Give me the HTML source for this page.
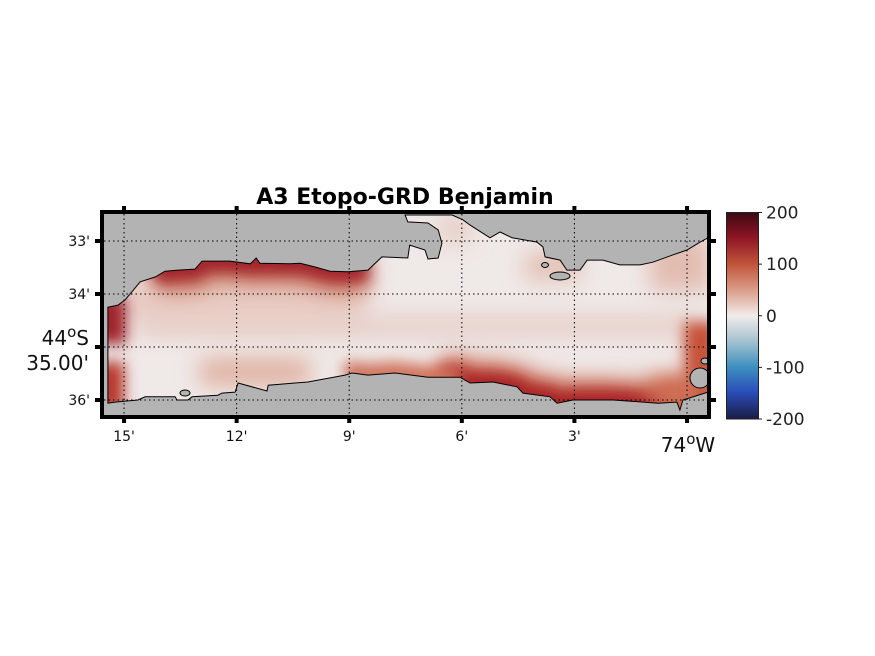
<!DOCTYPE html>
<html><head><meta charset="utf-8"><style>
body{margin:0;background:#fff;width:875px;height:656px;overflow:hidden}
svg{display:block;font-family:"DejaVu Sans","Liberation Sans",sans-serif}
</style></head><body>
<svg id="chart" width="875" height="656" viewBox="0 0 875 656">
<defs>
<linearGradient id="cbgrad" x1="0" y1="0" x2="0" y2="1">
<stop offset="0" stop-color="#3c0912"/><stop offset="0.12" stop-color="#8e1424"/>
<stop offset="0.25" stop-color="#c0543a"/><stop offset="0.38" stop-color="#dba08c"/>
<stop offset="0.5" stop-color="#f1ecec"/><stop offset="0.62" stop-color="#a6c3cf"/>
<stop offset="0.75" stop-color="#3d8fc0"/><stop offset="0.87" stop-color="#2a4db8"/>
<stop offset="1" stop-color="#1a1c45"/></linearGradient>
<filter id="blur" filterUnits="userSpaceOnUse" x="0" y="150" width="875" height="330"><feGaussianBlur stdDeviation="7"/></filter>
<filter id="blur2" filterUnits="userSpaceOnUse" x="0" y="150" width="875" height="330"><feGaussianBlur stdDeviation="11"/></filter>
<clipPath id="waterclip"><polygon id="wclip"/></clipPath>
</defs>
<rect x="103" y="300" width="6" height="105" fill="#ffffff"/>
<g id="plot"></g>
</svg>
<script>
// axis data
const lonTicks=[15,12,9,6,3,0];
const lonLabels=["15'","12'","9'","6'","3'",""];
const latTicks=[33,34,35,36];
const latLabels=["33'","34'","","36'"];
const cbTicks=[200,100,0,-100,-200];
const cbLabels=["200","100","0","-100","-200"];
// coastlines: lon minutes west of 74°W, lat minutes south of 44°S
const topCoastX=[15.43,15.16,14.97,14.71,14.57,14.17,13.91,13.56,13.11,12.92,12.18,11.64,11.59,11.48,11.38,10.58,10.31,9.91,9.51,9.03,8.50,8.13,7.44,7.39,6.98,6.90,6.63,6.53,6.63,6.90,7.44,7.51,6.26,5.97,5.78,5.25,4.98,4.66,4.00,3.84,3.78,3.38,3.20,2.85,2.66,2.24,1.79,1.25,0.91,0.37,0,-0.35,-0.56];
const topCoastY=[34.25,34.21,34.11,33.89,33.77,33.68,33.57,33.55,33.53,33.38,33.38,33.43,33.40,33.32,33.42,33.43,33.42,33.49,33.57,33.58,33.55,33.30,33.32,33.08,33.17,33.34,33.32,33.04,32.79,32.66,32.64,32.51,32.51,32.60,32.70,32.94,32.83,32.94,33.02,33.11,33.30,33.36,33.55,33.55,33.36,33.36,33.45,33.45,33.40,33.26,33.17,33.02,32.94];
const botCoastX=[-0.56,0.11,0.19,0.27,0.77,1.97,3.04,3.46,3.65,4.37,4.53,5.17,5.78,6.05,6.58,6.90,7.78,8.50,8.93,9.11,10.10,10.44,11.16,11.19,11.96,12.04,12.39,12.50,13.19,13.30,13.59,13.64,14.44,14.63,15.24,15.43];
const botCoastY=[35.85,36.0,36.19,36.04,36.06,36.0,36.0,36.06,35.94,35.87,35.75,35.66,35.68,35.57,35.57,35.57,35.49,35.53,35.49,35.53,35.66,35.68,35.72,35.83,35.68,35.85,35.87,35.91,35.94,36.0,36.0,35.94,35.94,36.0,36.04,36.06];
const X0=104,X1=708,Y0=214,Y1=415;
function lonX(m){return 687-m*37.53;}
function latY(m){return 241+(m-33)*53;}
const g=document.getElementById('plot');
const NS='http://www.w3.org/2000/svg';
function mk(tag,attrs,parent){const e=document.createElementNS(NS,tag);for(const k in attrs)e.setAttribute(k,attrs[k]);(parent||g).appendChild(e);return e;}
const land=mk('rect',{x:X0,y:Y0,width:X1-X0,height:Y1-Y0,fill:'#b3b3b3'});


const topPts=topCoastX.map((v,i)=>[Math.min(lonX(v),X1),Math.max(latY(topCoastY[i]),Y0)]);
const botPts=botCoastX.map((v,i)=>[Math.min(lonX(v),X1),latY(botCoastY[i])]);
const poly=topPts.concat(botPts);
const ptsStr=poly.map(p=>p[0].toFixed(1)+','+p[1].toFixed(1)).join(' ');
document.getElementById('wclip').setAttribute('points',ptsStr);
const wg=mk('g',{'clip-path':'url(#waterclip)'});


mk('rect',{x:X0,y:Y0,width:X1-X0,height:Y1-Y0,fill:'#efe9e8'},wg);
[[125,275,240,50,'#e8cbc2'],[140,316,560,20,'#e6cdc6'],[200,358,110,28,'#e0b2a3'],[650,236,60,55,'#e2bcb0'],[525,252,55,28,'#e3c0b4'],[440,213,30,30,'#e7cdc5']].forEach(d=>{
 mk('rect',{x:d[0],y:d[1],width:d[2],height:d[3],fill:d[4],filter:'url(#blur2)'},wg);
});
const topStr=topPts.filter(p=>p[0]>150&&p[0]<370).map(p=>p.join(',')).join(' ');
mk('polyline',{points:topStr,fill:'none',stroke:'#c36650',"stroke-width":40,filter:'url(#blur2)'},wg);
mk('polyline',{points:topStr,fill:'none',stroke:'#a0202a',"stroke-width":20,filter:'url(#blur)'},wg);
const botStr=botPts.filter(p=>p[0]>440&&p[0]<690).map(p=>p.join(',')).join(' ');
mk('polyline',{points:botStr,fill:'none',stroke:'#c9664e',"stroke-width":40,filter:'url(#blur2)'},wg);
mk('polyline',{points:botStr,fill:'none',stroke:'#a82228',"stroke-width":20,filter:'url(#blur)'},wg);
const botStr2=botPts.filter(p=>p[0]>340&&p[0]<460).map(p=>p.join(',')).join(' ');
mk('polyline',{points:botStr2,fill:'none',stroke:'#cf7058',"stroke-width":22,filter:'url(#blur)'},wg);
mk('rect',{x:96,y:296,width:30,height:48,fill:'#a0202a',filter:'url(#blur)'},wg);
mk('rect',{x:96,y:362,width:28,height:50,fill:'#b8392e',filter:'url(#blur)'},wg);
mk('rect',{x:684,y:322,width:34,height:92,fill:'#c6533a',filter:'url(#blur)'},wg);
mk('rect',{x:650,y:376,width:50,height:40,fill:'#cf6f55',filter:'url(#blur2)'},wg);
const cl=mk('polygon',{points:ptsStr,fill:'none',stroke:'#000','stroke-width':1});


[[185,393,5,3],[545,265,3.5,2.5],[560,276,10,4],[705,361,4,3],[700,378,10,10]].forEach(d=>{
 const e=mk('ellipse',{cx:d[0],cy:d[1],rx:d[2],ry:d[3],fill:'#b3b3b3',stroke:'#000','stroke-width':1});
 
 
});
lonTicks.forEach((m,i)=>{
 const x=lonX(m);
 const gl=mk('line',{x1:x,x2:x,y1:Y0,y2:Y1,stroke:'#000','stroke-width':1,'stroke-dasharray':'1.5,3'});
 
 
 mk('line',{x1:x,x2:x,y1:206,y2:212,stroke:'#000','stroke-width':4});
 mk('line',{x1:x,x2:x,y1:417,y2:423,stroke:'#000','stroke-width':4});
 if(lonLabels[i]){
  const t=mk('text',{x:x,y:441,'text-anchor':'middle','font-size':14,fill:'#111'});
  t.textContent=lonLabels[i];
  
  
 }
});
latTicks.forEach((m,i)=>{
 const y=latY(m);
 const gl=mk('line',{x1:X0,x2:X1,y1:y,y2:y,stroke:'#000','stroke-width':1,'stroke-dasharray':'1.5,3'});
 
 
 mk('line',{x1:95,x2:102,y1:y,y2:y,stroke:'#000','stroke-width':4});
 mk('line',{x1:709,x2:716,y1:y,y2:y,stroke:'#000','stroke-width':4});
 if(latLabels[i]){
  const t=mk('text',{x:90,y:y+5,'text-anchor':'end','font-size':14,fill:'#111'});
  t.textContent=latLabels[i];
  
  
 }
});
const fr=mk('rect',{x:102,y:212,width:607,height:205,fill:'none',stroke:'#000','stroke-width':4});


const l1=mk('text',{x:89,y:345,'text-anchor':'end','font-size':20,fill:'#111'});
l1.innerHTML='44<tspan dy="-8" font-size="15">o</tspan><tspan dy="8">S</tspan>';


const l2=mk('text',{x:89,y:370,'text-anchor':'end','font-size':20,fill:'#111'});
l2.textContent="35.00'";


const l3=mk('text',{x:688,y:452,'text-anchor':'middle','font-size':20,fill:'#111'});
l3.innerHTML='74<tspan dy="-8" font-size="15">o</tspan><tspan dy="8">W</tspan>';


const title=mk('text',{x:405,y:204,'text-anchor':'middle','font-size':22,'font-weight':'bold',fill:'#000'});
title.textContent='A3 Etopo-GRD Benjamin';


const CB0=212.5,CB1=419;
function cbY(v){return CB0+(200-v)*(CB1-CB0)/400;}
const cb=mk('rect',{x:726.5,y:CB0,width:32,height:CB1-CB0,fill:'url(#cbgrad)',stroke:'#222','stroke-width':1});


cbTicks.forEach((v,i)=>{
 const y=cbY(v);
 mk('line',{x1:758,x2:762,y1:y,y2:y,stroke:'#222','stroke-width':1});
 const t=mk('text',{x:766,y:y+6,'font-size':17,fill:'#222'});
 t.textContent=cbLabels[i];
 
 
});
</script>
</body></html>
